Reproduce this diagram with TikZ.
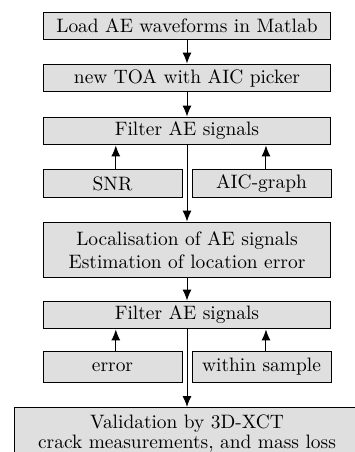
\documentclass[tikz,border=0pt]{standalone}
\usepackage{tikz}
\usetikzlibrary{arrows.meta,calc}

\tikzset{
  stepbox/.style={draw, line width=0.5pt, fill=gray!25, minimum width=148.3pt, minimum height=14.4pt, inner sep=2pt, align=center},
  subbox/.style={stepbox, minimum width=71.6pt, minimum height=14.9pt},
  flow/.style={-{Latex[length=5.6pt,width=4.6pt]}, line width=0.5pt}
}

\begin{document}
\begin{tikzpicture}[x=0.515pt, y=-0.515pt]
            % page frame
            \useasboundingbox (0,0) rectangle (355,452);
            \clip (0,0) rectangle (355,452);

            % main steps
            \node[stepbox] (load) at (187,26) {Load AE waveforms in Matlab};
            \node[stepbox] (toa) at (187,78) {new TOA with AIC picker};
            \node[stepbox] (filtA) at (187,131) {Filter AE signals};
            \node[stepbox, minimum height=28.8pt, inner sep=3pt] (loc) at (187,250) {Localisation of AE signals\\Estimation of location error};
            \node[stepbox] (filtB) at (187,315) {Filter AE signals};
            \node[stepbox, anchor=north, minimum width=178.2pt, inner ysep=3.9pt] (valid) at (187,407) {Validation by 3D-XCT\\[-1.7pt]crack measurements, and mass loss};

            % criteria boxes
            \node[subbox] (snr) at (112.5,183.5) {SNR};
            \node[subbox] (aicg) at (261.5,183.5) {AIC-graph};
            \node[subbox, minimum height=16.3pt] (err) at (112.5,367) {error};
            \node[subbox, minimum height=16.3pt] (insample) at (261.5,367) {within sample};

            % arrows
            \draw[flow] (load) -- (toa);
            \draw[flow] (toa) -- (filtA);
            \draw[flow] (filtA) -- (loc);
            \draw[flow] (loc) -- (filtB);
            \draw[flow] (filtB) -- (valid);
            \draw[flow] ([xshift=1.7pt]snr.north) -- ([xshift=1.7pt]snr.north |- filtA.south);
            \draw[flow] ([xshift=2.3pt]aicg.north) -- ([xshift=2.3pt]aicg.north |- filtA.south);
            \draw[flow] ([xshift=1.7pt]err.north) -- ([xshift=1.7pt]err.north |- filtB.south);
            \draw[flow] ([xshift=2.3pt]insample.north) -- ([xshift=2.3pt]insample.north |- filtB.south);
\end{tikzpicture}
\end{document}
